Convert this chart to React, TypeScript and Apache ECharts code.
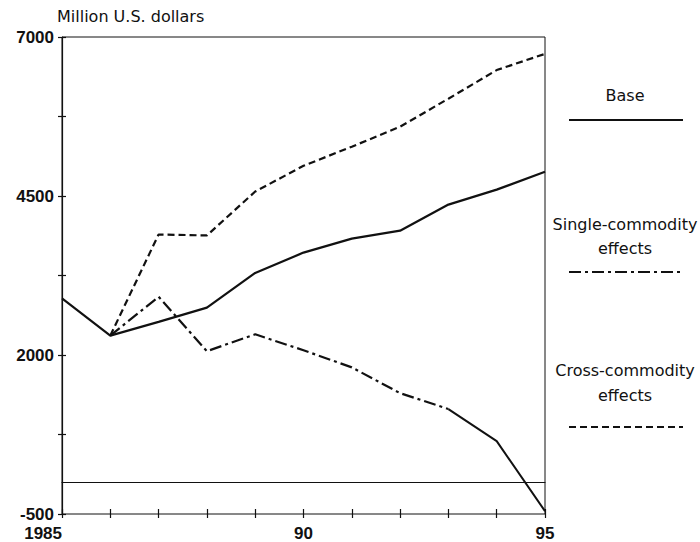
import React, { useEffect, useRef } from "react";
import * as echarts from "echarts";

const years = [1985, 1986, 1987, 1988, 1989, 1990, 1991, 1992, 1993, 1994, 1995];
const baseValues = [2890, 2305, 2520, 2745, 3290, 3610, 3830, 3955, 4365, 4600, 4880];
const singleValues = [null, 2305, 2915, 2060, 2325, 2075, 1805, 1400, 1150, 645, -455];
const crossValues = [null, 2305, 3895, 3880, 4570, 4975, 5275, 5590, 6030, 6480, 6735];
const yTickLabels = ["-500", "2000", "4500", "7000"];
const xTickLabels: Record<number, string> = { 1985: "1985", 1990: "90", 1995: "95" };
const legendItems = [
  { lines: ["Base"], dash: null as number[] | null },
  { lines: ["Single-commodity", "effects"], dash: [12, 4, 3, 4] },
  { lines: ["Cross-commodity", "effects"], dash: [7, 4] },
];

const pairs = (vals: (number | null)[]) =>
  years.map((y, i) => [y, vals[i]]).filter((p) => p[1] !== null);

export default function App() {
  const ref = useRef<HTMLDivElement>(null);
  useEffect(() => {
    if (!ref.current) return;
    const chart = echarts.init(ref.current, undefined, { renderer: "svg" });
    const ink = "#111";
    const numFont = "'Liberation Sans', Arial, sans-serif";
    const txtFont = "'DejaVu Sans', sans-serif";
    const singlePairs = pairs(singleValues);
    const dashIdx = singlePairs.findIndex((p) => p[0] === 1993);

    const graphics: any[] = [];
    const legendY = [[95], [224, 248], [370, 395]];
    const lineY = [120, 272, 427];
    legendItems.forEach((it, i) => {
      it.lines.forEach((t, j) => {
        graphics.push({
          type: "text",
          x: 625,
          y: legendY[i][j],
          style: {
            text: t,
            fill: ink,
            font: `16px ${txtFont}`,
            textAlign: "center",
            textVerticalAlign: "middle",
          },
        });
      });
      graphics.push({
        type: "line",
        shape: { x1: 569, y1: lineY[i], x2: 683, y2: lineY[i] },
        style: { stroke: ink, lineWidth: 2, lineDash: it.dash || undefined },
      });
    });

    chart.setOption({
      animation: false,
      backgroundColor: "#fff",
      grid: { left: 62, right: 155, top: 37, bottom: 25, show: true, borderColor: ink, borderWidth: 1 },
      xAxis: [
        {
          type: "value",
          min: 1985,
          max: 1995,
          interval: 1,
          axisLine: { show: true, lineStyle: { color: ink, width: 1.2 } },
          axisTick: { show: false },
          splitLine: { show: false },
          axisLabel: {
            color: ink,
            fontFamily: numFont,
            fontWeight: "bold",
            fontSize: 17,
            lineHeight: 17,
            margin: 11,
            alignMinLabel: "right",
            showMinLabel: true,
            showMaxLabel: true,
            formatter: (v: number) => xTickLabels[v] ?? "",
          },
        },
        {
          type: "value",
          min: 1985,
          max: 1995,
          interval: 1,
          position: "bottom",
          offset: -5,
          axisLine: { show: false },
          axisTick: { show: true, length: 9, lineStyle: { color: ink, width: 1.2 } },
          axisLabel: { show: false },
          splitLine: { show: false },
        },
      ],
      yAxis: [
        {
          type: "value",
          min: -500,
          max: 7000,
          name: "Million U.S. dollars",
          nameLocation: "end",
          nameGap: 13,
          nameTextStyle: { color: ink, fontFamily: txtFont, fontSize: 16, align: "left", padding: [0, 0, 0, -5] },
          axisLine: { show: true, lineStyle: { color: ink, width: 1.2 } },
          axisTick: { show: false },
          axisLabel: { show: false },
          splitLine: { show: false },
        },
        {
          type: "value",
          min: 0,
          max: 7500,
          interval: 1250,
          position: "left",
          offset: -4,
          axisLine: { show: false },
          axisTick: { show: true, length: 8, lineStyle: { color: ink, width: 1.2 } },
          splitLine: { show: false },
          axisLabel: {
            color: ink,
            fontFamily: numFont,
            fontWeight: "bold",
            fontSize: 17,
            lineHeight: 17,
            margin: 12,
            showMinLabel: true,
            showMaxLabel: true,
            formatter: (v: number) => {
              const s = String(v - 500);
              return yTickLabels.includes(s) ? s : "";
            },
          },
        },
      ],
      series: [
        {
          name: "Base",
          type: "line",
          data: pairs(baseValues),
          symbol: "none",
          lineStyle: { color: ink, width: 2.2, type: "solid" },
          markLine: {
            silent: true,
            symbol: "none",
            label: { show: false },
            lineStyle: { color: ink, width: 1, type: "solid" },
            data: [{ yAxis: 0 }],
          },
        },
        {
          name: "Single-commodity effects",
          type: "line",
          data: singlePairs.slice(0, dashIdx + 1),
          symbol: "none",
          lineStyle: { color: ink, width: 2.2, type: [12, 4, 3, 4] },
        },
        {
          name: "Single-commodity effects (tail)",
          type: "line",
          data: singlePairs.slice(dashIdx),
          symbol: "none",
          lineStyle: { color: ink, width: 2, type: "solid" },
        },
        {
          name: "Cross-commodity effects",
          type: "line",
          data: pairs(crossValues),
          symbol: "none",
          lineStyle: { color: ink, width: 2.2, type: [7, 4] },
        },
      ],
      graphic: graphics,
    });
    return () => chart.dispose();
  }, []);
  return (
    <div
      ref={ref}
      style={{ position: "fixed", left: 0, top: 0, width: 700, height: 542, background: "#fff" }}
    />
  );
}
